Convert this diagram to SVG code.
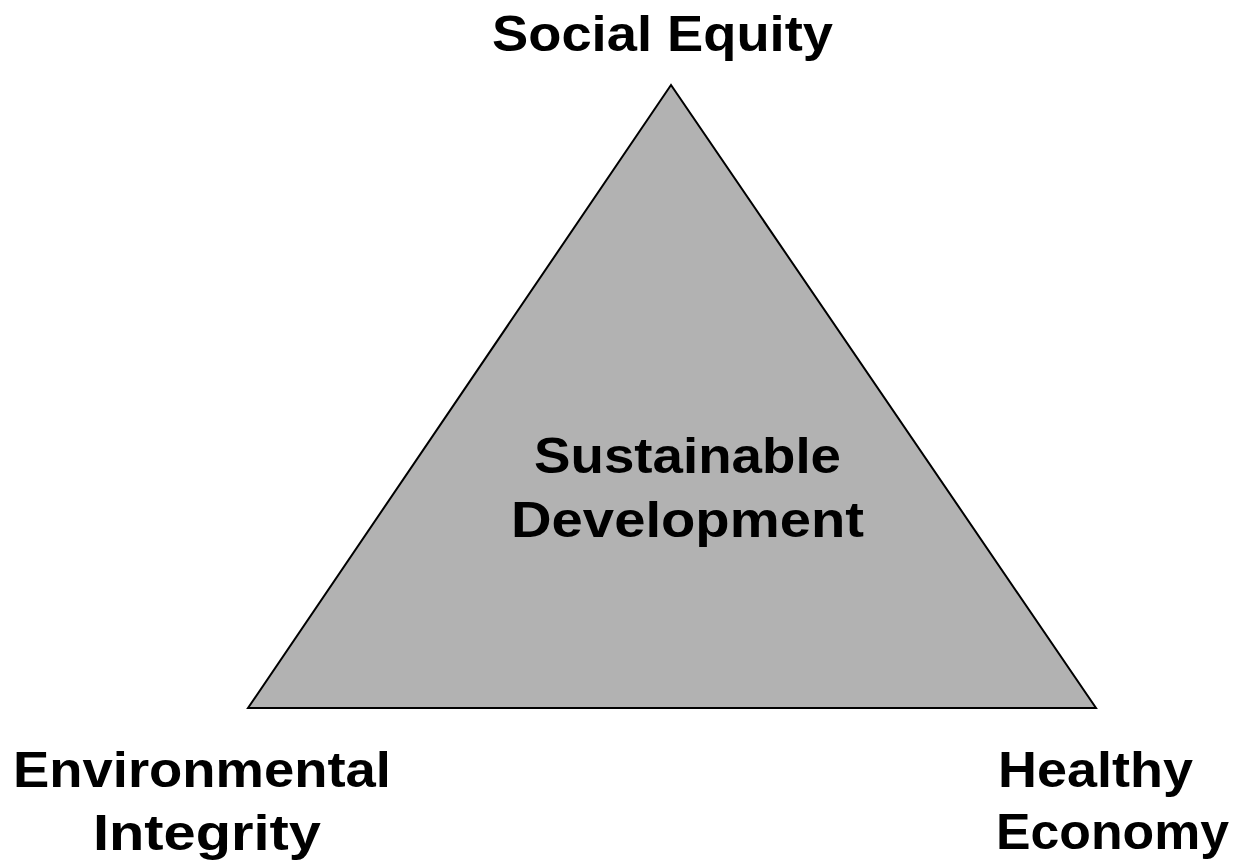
<svg xmlns="http://www.w3.org/2000/svg" width="1233" height="861" viewBox="0 0 1233 861">
<style>
.lbl{font-family:"Liberation Sans",Arial,sans-serif;font-weight:bold;font-size:50px;fill:#000}
</style>
<rect width="1233" height="861" fill="#fff"/>
<g id="triangle">
<polygon points="671,85 248,708 1096,708" fill="#b2b2b2" stroke="#000" stroke-width="2" stroke-linejoin="miter"/>
<text class="lbl" x="534" y="473" textLength="307" lengthAdjust="spacingAndGlyphs">Sustainable</text>
<text class="lbl" x="511" y="537" textLength="353" lengthAdjust="spacingAndGlyphs">Development</text>
</g>
<g id="social-equity">
<text class="lbl" x="492" y="51" textLength="341" lengthAdjust="spacingAndGlyphs">Social Equity</text>
</g>
<g id="environmental-integrity">
<text class="lbl" x="13" y="787" textLength="378" lengthAdjust="spacingAndGlyphs">Environmental</text>
<text class="lbl" x="93" y="850" textLength="228" lengthAdjust="spacingAndGlyphs">Integrity</text>
</g>
<g id="healthy-economy">
<text class="lbl" x="998" y="787" textLength="195" lengthAdjust="spacingAndGlyphs">Healthy</text>
<text class="lbl" x="996" y="849" textLength="233" lengthAdjust="spacingAndGlyphs">Economy</text>
</g>
<g id="connectors"></g>
</svg>
